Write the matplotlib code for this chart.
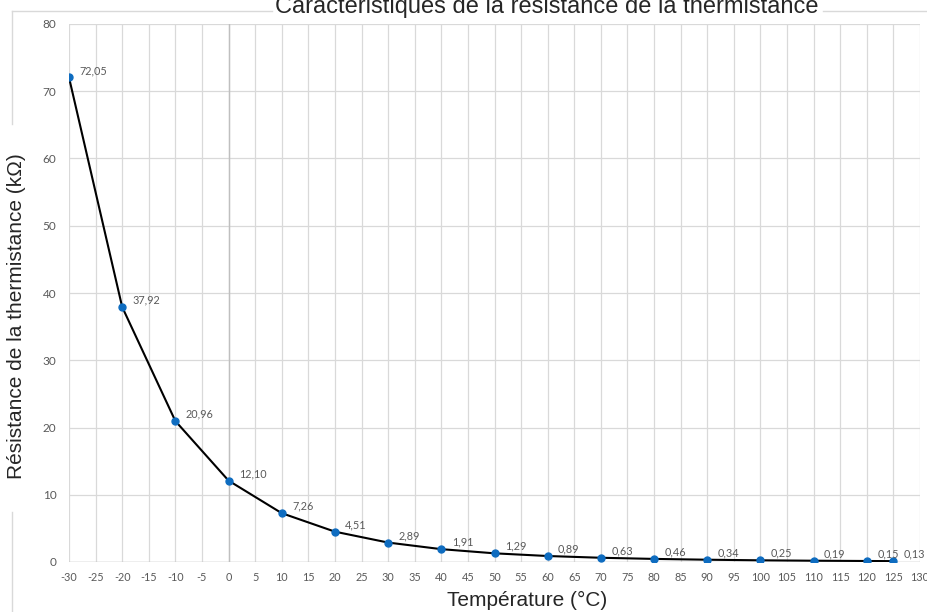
import matplotlib
matplotlib.use("Agg")
import matplotlib.pyplot as plt
from matplotlib.lines import Line2D

temperatures = [-30, -20, -10, 0, 10, 20, 30, 40, 50, 60, 70, 80, 90, 100, 110, 120, 125]
resistances = [72.05, 37.92, 20.96, 12.10, 7.26, 4.51, 2.89, 1.91, 1.29, 0.89, 0.63,
               0.46, 0.34, 0.25, 0.19, 0.15, 0.13]
x_ticks = list(range(-30, 131, 5))
y_ticks = list(range(0, 81, 10))

title = "Caractéristiques de la résistance de la thermistance"
xlabel = "Température (°C)"
ylabel = "Résistance de la thermistance (kΩ)"

W, H = 928, 612
fig = plt.figure(figsize=(W / 100, H / 100), dpi=100)
fig.patch.set_facecolor("white")

def fx(px):
    return px / W

def fy(py):
    return 1 - py / H

ax = fig.add_axes([fx(69), fy(562), fx(920) - fx(69), fy(24) - fy(562)])
ax.set_xlim(-30, 130)
ax.set_ylim(0, 80)
ax.set_xticks(x_ticks)
ax.set_yticks(y_ticks)
ax.set_xticklabels([str(v) for v in x_ticks])
ax.set_yticklabels([str(v) for v in y_ticks])
for s in ax.spines.values():
    s.set_visible(False)
ax.grid(True, color="#D9D9D9", linewidth=0.9)
ax.set_axisbelow(True)
ax.axvline(0, color="#BFBFBF", linewidth=1.0, zorder=1)
ax.axhline(0, color="#BFBFBF", linewidth=1.0, zorder=1)
ax.tick_params(length=0, labelcolor="#595959")
ax.tick_params(axis="x", pad=7, labelsize=7.8)
ax.tick_params(axis="y", pad=9, labelsize=8.5)
for lab in ax.get_xticklabels() + ax.get_yticklabels():
    lab.set_family(["Lato", "DejaVu Sans"])

ax.plot(temperatures, resistances, color="black", linewidth=1.5, zorder=3)
ax.plot(temperatures, resistances, linestyle="none", marker="o", markersize=5,
        color="#0E6CC0", zorder=4)
for t, r in zip(temperatures, resistances):
    ax.annotate(f"{r:.2f}".replace(".", ","), (t, r), xytext=(7.5, 5),
                textcoords="offset points", fontsize=7.8, color="#595959",
                family=["Lato", "DejaVu Sans"], ha="left", va="center", zorder=5)

# chart area border (partially hidden by titles)
border = dict(color="#D9D9D9", linewidth=1.0, transform=fig.transFigure)
fig.add_artist(Line2D([fx(12), fx(272)], [fy(10.5), fy(10.5)], **border))
fig.add_artist(Line2D([fx(823), fx(928)], [fy(10.5), fy(10.5)], **border))
fig.add_artist(Line2D([fx(12), fx(12)], [fy(10.5), fy(124)], **border))
fig.add_artist(Line2D([fx(12), fx(12)], [fy(512), fy(612)], **border))

fig.text(fx(547), fy(13), title, ha="center", va="baseline", fontsize=17,
         family=["Liberation Sans", "DejaVu Sans"], color="#262626")
fig.text(fx(527), fy(606), xlabel, ha="center", va="baseline", fontsize=15,
         family=["Liberation Sans", "DejaVu Sans"], color="#262626")
fig.text(fx(17), fy(316), ylabel, ha="center", va="center", rotation=90, fontsize=15,
         family=["Liberation Sans", "DejaVu Sans"], color="#262626")

fig.savefig("out.png", dpi=100, facecolor="white")
